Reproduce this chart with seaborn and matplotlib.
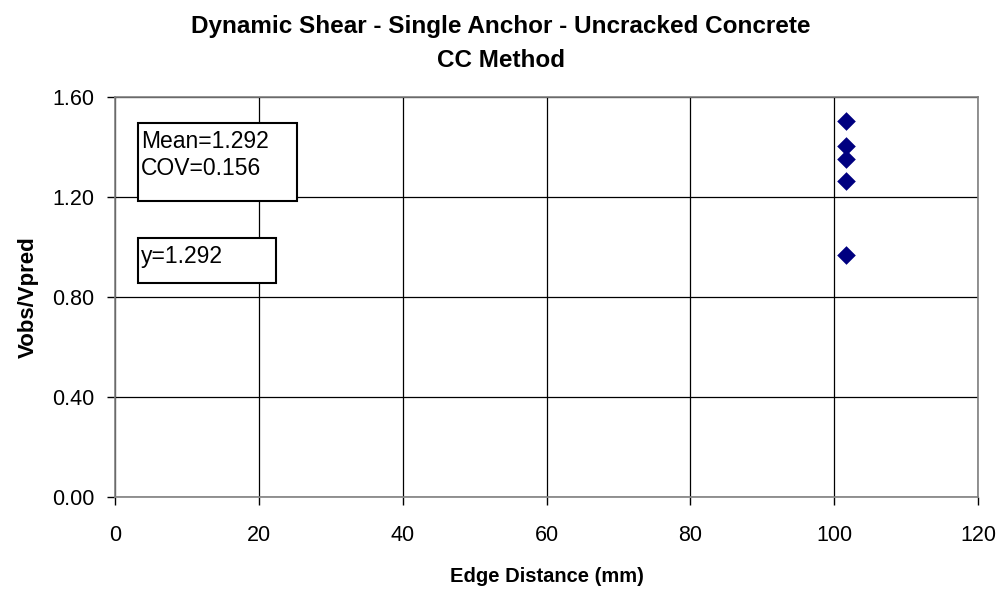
import matplotlib
matplotlib.use('Agg')
from matplotlib import pyplot as plt
from matplotlib.patches import Rectangle
import seaborn as sns
import pandas as pd

# data
edge_distance = [101.6, 101.6, 101.6, 101.6, 101.6]
ratio = [1.503, 1.405, 1.351, 1.264, 0.968]
x_ticks = [0, 20, 40, 60, 80, 100, 120]
y_ticks = [0.0, 0.4, 0.8, 1.2, 1.6]
stats_text = 'Mean=1.292\nCOV=0.156'
fit_text = 'y=1.292'

df = pd.DataFrame({'edge': edge_distance, 'ratio': ratio})

sns.set_style('white')
plt.rcParams['font.family'] = ['Liberation Sans', 'DejaVu Sans']
plt.rcParams['text.color'] = 'black'
plt.rcParams['axes.labelcolor'] = 'black'
plt.rcParams['xtick.color'] = 'black'
plt.rcParams['ytick.color'] = 'black'

fig = plt.figure(figsize=(10.02, 5.91), dpi=100)
ax = fig.add_axes([0.1148, 0.159, 0.8613, 0.677])

sns.scatterplot(data=df, x='edge', y='ratio', marker='D', s=90,
                color='#000080', edgecolor='#000080', linewidth=0, ax=ax, zorder=3)

ax.set_xlim(0, 120)
ax.set_ylim(0, 1.6)
ax.set_xticks(x_ticks)
ax.set_yticks(y_ticks)
ax.set_yticklabels([f'{v:.2f}' for v in y_ticks])
ax.grid(True, color='black', linewidth=0.9)
ax.set_axisbelow(True)
for side, sp in ax.spines.items():
    sp.set_visible(True)
    sp.set_color('#808080')
    sp.set_linewidth(1.2)
ax.tick_params(axis='both', which='major', direction='out', length=6,
               width=1, color='black', labelsize=15.5,
               left=True, bottom=True)
ax.tick_params(axis='x', pad=14)
ax.tick_params(axis='y', pad=9)

ax.set_xlabel('Edge Distance (mm)', fontsize=14.5, fontweight='bold', labelpad=15)
ax.set_ylabel('Vobs/Vpred', fontsize=16, fontweight='bold', labelpad=9)
fig.suptitle('Dynamic Shear - Single Anchor - Uncracked Concrete\nCC Method',
             fontsize=17.5, fontweight='bold', y=0.975, linespacing=1.6)

# annotation boxes
ax.add_patch(Rectangle((0.0267, 0.74), 0.184, 0.195, transform=ax.transAxes,
                       facecolor='white', edgecolor='black', linewidth=1.5, zorder=4))
ax.text(0.030, 0.917, stats_text, transform=ax.transAxes, fontsize=16.5,
        va='top', ha='left', linespacing=1.2, zorder=5)
ax.add_patch(Rectangle((0.0267, 0.535), 0.16, 0.1125, transform=ax.transAxes,
                       facecolor='white', edgecolor='black', linewidth=1.5, zorder=4))
ax.text(0.030, 0.63, fit_text, transform=ax.transAxes, fontsize=16.5,
        va='top', ha='left', zorder=5)

fig.savefig('out.png', dpi=100)
